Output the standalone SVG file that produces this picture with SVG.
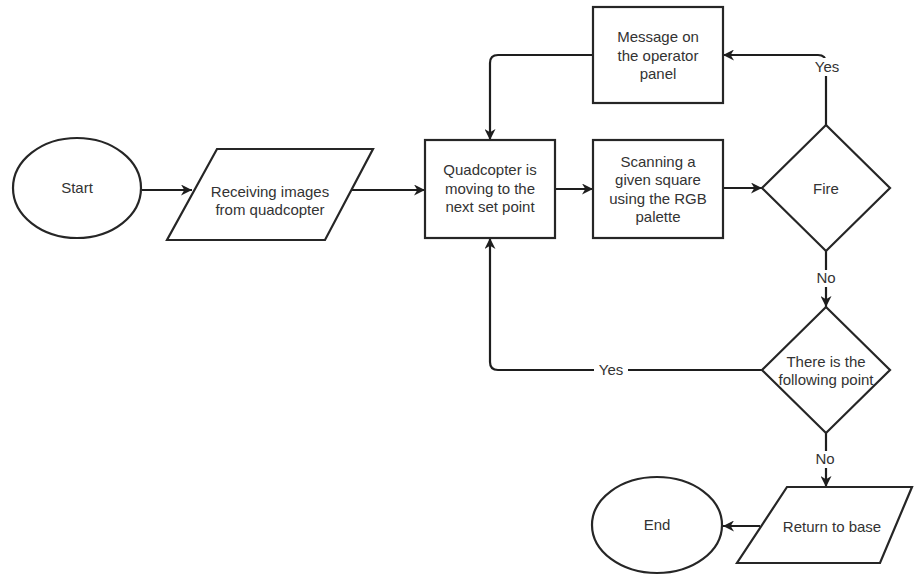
<svg xmlns="http://www.w3.org/2000/svg" width="914" height="575" viewBox="0 0 914 575">
<style>
.n{fill:#fff;stroke:#262626;stroke-width:2.2}
.t{font-family:"Liberation Sans",Arial,sans-serif;font-size:15px;fill:#333;text-anchor:middle}
.c{fill:none;stroke:#1e1e1e;stroke-width:2.2}
.lb{fill:#fff}
</style>
<defs>
<marker id="a" viewBox="0 0 10 10" refX="10" refY="5" markerWidth="11" markerHeight="11" markerUnits="userSpaceOnUse" orient="auto">
<path d="M0,0 L10,5 L0,10 L3,5 Z" fill="#1e1e1e"/>
</marker>
</defs>
<rect width="914" height="575" fill="#fff"/>
<g id="connectors">
<path class="c" d="M142,190 H192" marker-end="url(#a)"/>
<path class="c" d="M350,190 H425" marker-end="url(#a)"/>
<path class="c" d="M555,189 H593" marker-end="url(#a)"/>
<path class="c" d="M723,188 H762" marker-end="url(#a)"/>
<path class="c" d="M826,125 V63 Q826,55 818,55 H723" marker-end="url(#a)"/>
<path class="c" d="M593,55 H498 Q490,55 490,63 V140" marker-end="url(#a)"/>
<path class="c" d="M826,251 V307" marker-end="url(#a)"/>
<path class="c" d="M762,370 H498 Q490,370 490,362 V238" marker-end="url(#a)"/>
<path class="c" d="M826,433 V487" marker-end="url(#a)"/>
<path class="c" d="M760,526 H723" marker-end="url(#a)"/>
<rect class="lb" x="812" y="58" width="28" height="18"/>
<text class="t" x="827" y="72">Yes</text>
<rect class="lb" x="594" y="361" width="34" height="18"/>
<text class="t" x="611" y="375">Yes</text>
<rect class="lb" x="814" y="270" width="24" height="17"/>
<text class="t" x="826" y="283">No</text>
<rect class="lb" x="813" y="451" width="24" height="17"/>
<text class="t" x="825" y="464">No</text>
</g>
<g id="start">
<ellipse class="n" cx="77" cy="188" rx="64" ry="50"/>
<text class="t" x="77" y="193">Start</text>
</g>
<g id="receiving">
<polygon class="n" points="217,149 373,149 325,240 167,240"/>
<text class="t" x="270" y="197">Receiving images</text>
<text class="t" x="270" y="215">from quadcopter</text>
</g>
<g id="quadcopter">
<rect class="n" x="425" y="140" width="130" height="98"/>
<text class="t" x="490" y="175">Quadcopter is</text>
<text class="t" x="490" y="194">moving to the</text>
<text class="t" x="490" y="212">next set point</text>
</g>
<g id="scanning">
<rect class="n" x="593" y="140" width="130" height="98"/>
<text class="t" x="658" y="167">Scanning a</text>
<text class="t" x="658" y="185">given square</text>
<text class="t" x="658" y="204">using the RGB</text>
<text class="t" x="658" y="222">palette</text>
</g>
<g id="message">
<rect class="n" x="593" y="7" width="130" height="96"/>
<text class="t" x="658" y="42">Message on</text>
<text class="t" x="658" y="61">the operator</text>
<text class="t" x="658" y="79">panel</text>
</g>
<g id="fire">
<polygon class="n" points="826,125 890,188 826,251 762,188"/>
<text class="t" x="826" y="194">Fire</text>
</g>
<g id="following">
<polygon class="n" points="826,307 890,370 826,433 762,370"/>
<text class="t" x="826" y="367">There is the</text>
<text class="t" x="826" y="385">following point</text>
</g>
<g id="return">
<polygon class="n" points="787,487 912,487 880,563 737,563"/>
<text class="t" x="832" y="532">Return to base</text>
</g>
<g id="end">
<ellipse class="n" cx="657" cy="525" rx="65" ry="48"/>
<text class="t" x="657" y="530">End</text>
</g>
</svg>
